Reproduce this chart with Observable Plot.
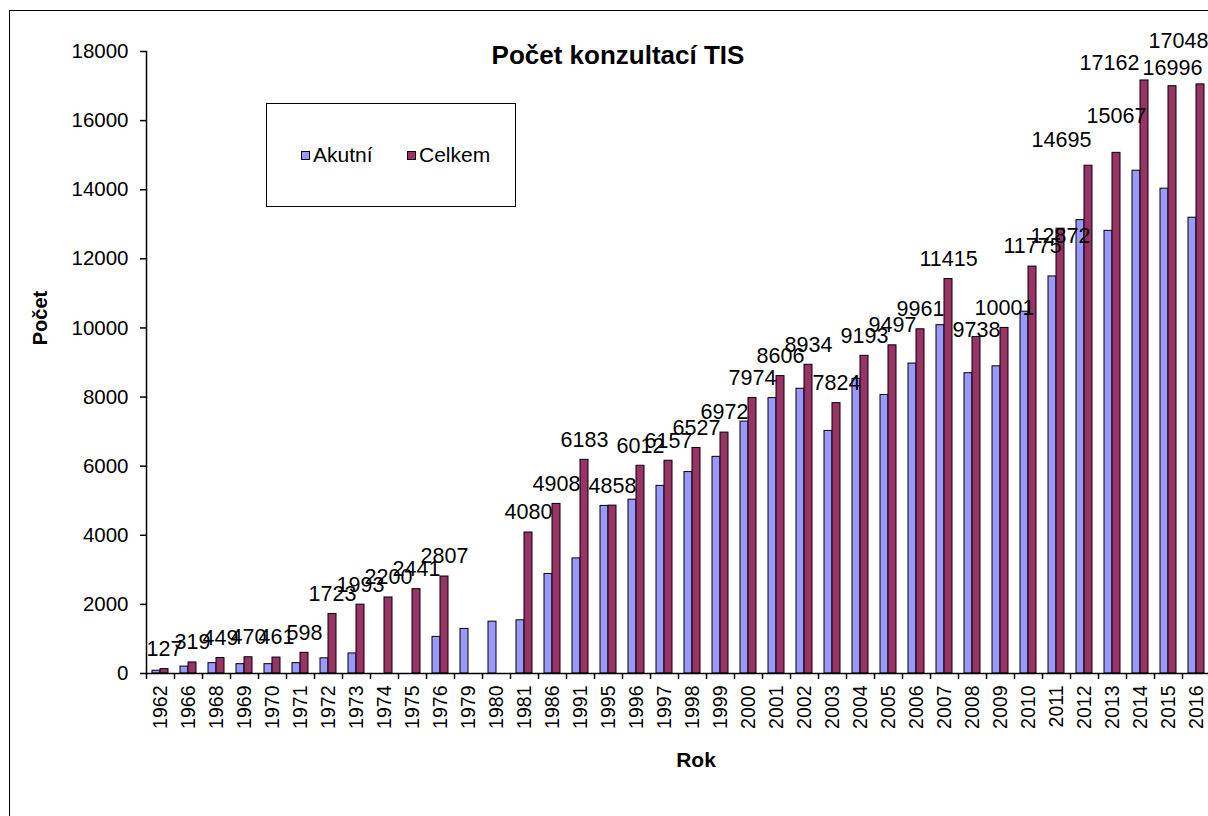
<!DOCTYPE html>
<html>
<head>
<meta charset="utf-8">
<script src="https://cdn.jsdelivr.net/npm/d3@7"></script>
<script src="https://cdn.jsdelivr.net/npm/@observablehq/plot@0.6"></script>
<style>
  html, body { margin: 0; padding: 0; background: #fff; overflow: hidden; width: 1208px; height: 816px; }
  #wrap { position: relative; width: 1208px; height: 816px; overflow: hidden; font-family: "Liberation Sans", Arial, sans-serif; color: #000; }
  #chart { position: absolute; left: 0; top: 0; width: 1240px; }
  #chart svg { max-width: none !important; }
  #frame { position: absolute; left: 9px; top: 10px; width: 1300px; height: 900px; border: 1px solid #000; box-sizing: border-box; }
  #title { position: absolute; left: 618px; top: 55px; transform: translate(-50%, -50%); font-weight: bold; font-size: 26px; white-space: nowrap; }
  #ylab { position: absolute; left: 40px; top: 318px; transform: translate(-50%, -50%) rotate(-90deg); font-weight: bold; font-size: 20px; }
  #xlab { position: absolute; left: 696px; top: 760px; transform: translate(-50%, -50%); font-weight: bold; font-size: 21px; }
  #legend { position: absolute; left: 266px; top: 103px; width: 250px; height: 104px; border: 1px solid #000; box-sizing: border-box; background: #fff; }
  .li { position: absolute; top: 51px; transform: translateY(-50%); display: flex; align-items: center; font-size: 21px; white-space: nowrap; }
  .sw { width: 9px; height: 9px; border: 1px solid #000; margin-right: 3px; box-sizing: border-box; }
</style>
</head>
<body>
<div id="wrap">
  <div id="frame"></div>
  <div id="chart"></div>
  <div id="title">Počet konzultací TIS</div>
  <div id="ylab">Počet</div>
  <div id="xlab">Rok</div>
  <div id="legend"></div>
</div>
<script>
const years = ["1962","1966","1968","1969","1970","1971","1972","1973","1974","1975","1976","1979","1980","1981","1986","1991","1995","1996","1997","1998","1999","2000","2001","2002","2003","2004","2005","2006","2007","2008","2009","2010","2011","2012","2013","2014","2015","2016"];
const akutni = [80,200,300,270,270,300,440,580,null,null,1060,1290,1500,1540,2880,3330,4850,5030,5430,5830,6270,7290,7970,8240,7020,8530,8060,8970,10080,8690,8890,10470,11490,13120,12810,14550,14030,13190];
const celkem = [127,319,449,470,461,598,1723,1993,2200,2441,2807,null,null,4080,4908,6183,4858,6012,6157,6527,6972,7974,8606,8934,7824,9193,9497,9961,11415,9738,10001,11775,12872,14695,15067,17162,16996,17048];
const seriesNames = ["Akutní", "Celkem"];
const seriesColors = ["#9999FF", "#993366"];
const yTicks = [0,2000,4000,6000,8000,10000,12000,14000,16000,18000];

// data labels that were moved by hand in the original chart (pixel offsets from the default spot)
const movedLabels = [
  {year: "2008", dx: 0, dy: -7},
  {year: "2011", dx: 0, dy: 7},
  {year: "2012", dx: -27, dy: -26},
  {year: "2013", dx: 0, dy: -37},
  {year: "2014", dx: -35, dy: -17},
  {year: "2015", dx: 0, dy: -18},
  {year: "2016", dx: -22, dy: -43}
];

const rows = years.map((y, i) => ({year: y, akutni: akutni[i], celkem: celkem[i]}));
const rowsA = rows.filter(d => d.akutni != null);
const rowsC = rows.filter(d => d.celkem != null);
const movedSet = new Set(movedLabels.map(m => m.year));

const labelStyle = {x: "year", y: "celkem", text: d => String(d.celkem), lineAnchor: "middle", fontSize: 21.5, fill: "#000"};
const labelMarks = [
  Plot.text(rowsC.filter(d => !movedSet.has(d.year)), {...labelStyle, dx: 4, dy: -20}),
  ...movedLabels.map(m => Plot.text(rowsC.filter(d => d.year === m.year), {...labelStyle, dx: 4 + m.dx, dy: m.dy}))
];

const chart = Plot.plot({
  width: 1240,
  height: 816,
  marginLeft: 146,
  marginRight: 30,
  marginTop: 51,
  marginBottom: 143,
  style: {fontFamily: '"Liberation Sans", Arial, sans-serif', fontSize: "20px", color: "#000", background: "transparent", overflow: "visible", maxWidth: "none"},
  x: {type: "band", domain: years, padding: 0, label: null},
  y: {domain: [0, 18000], label: null},
  marks: [
    Plot.barY(rowsA, {x: "year", y: "akutni", fill: seriesColors[0], stroke: "#000", strokeWidth: 1, insetLeft: 6, insetRight: 14}),
    Plot.barY(rowsC, {x: "year", y: "celkem", fill: seriesColors[1], stroke: "#000", strokeWidth: 1, insetLeft: 14, insetRight: 6}),
    ...labelMarks,
    Plot.ruleY([0], {stroke: "#000", strokeWidth: 1.5}),
    Plot.frame({anchor: "left", stroke: "#000", strokeWidth: 1.5}),
    Plot.axisY({ticks: yTicks, tickFormat: d => String(d), tickSize: 6, tickPadding: 12, fontSize: 20.5, stroke: "#000", strokeWidth: 1.5}),
    Plot.axisX({tickSize: 6, tickFormat: () => "", dx: -14, stroke: "#000", strokeWidth: 1.5}),
    Plot.axisX({tickSize: 0, tickRotate: -90, tickPadding: 12, fontSize: 19.5})
  ]
});
document.getElementById("chart").appendChild(chart);

const legend = document.getElementById("legend");
const lx = [34, 140];
seriesNames.forEach((n, i) => {
  const item = document.createElement("div");
  item.className = "li";
  item.style.left = lx[i] + "px";
  const sw = document.createElement("div");
  sw.className = "sw";
  sw.style.background = seriesColors[i];
  item.appendChild(sw);
  const t = document.createElement("span");
  t.textContent = n;
  item.appendChild(t);
  legend.appendChild(item);
});
</script>
</body>
</html>
